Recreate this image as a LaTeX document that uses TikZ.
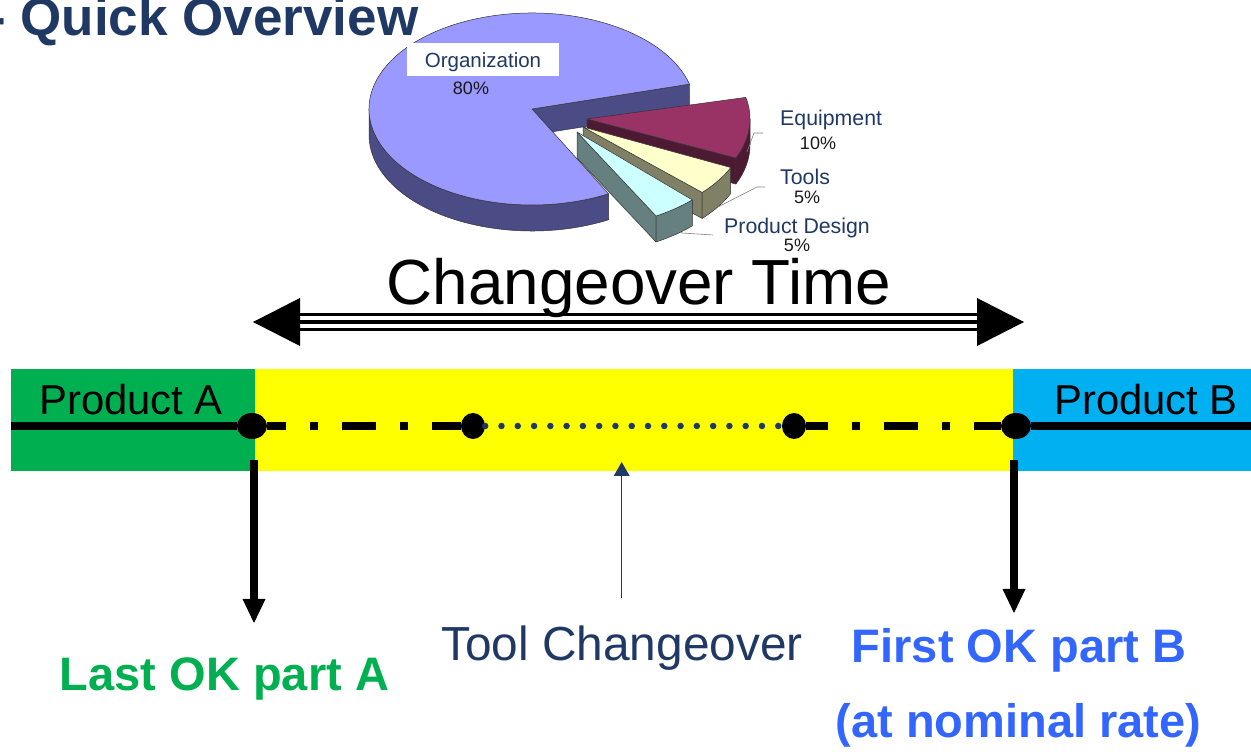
\documentclass[tikz,border=0pt]{standalone}
\usepackage{fontspec}
\setmainfont{Liberation Sans}
\usetikzlibrary{arrows.meta,shapes.geometric,calc}

\definecolor{navy}{HTML}{1F3864}
\definecolor{bandA}{HTML}{00B050}
\definecolor{bandMid}{HTML}{FFFF00}
\definecolor{bandB}{HTML}{00B0F0}
\definecolor{blueTxt}{HTML}{3366FF}
\definecolor{orgTop}{HTML}{9999FF}
\definecolor{orgSide}{HTML}{4B4B85}
\definecolor{eqTop}{HTML}{993366}
\definecolor{eqSide}{HTML}{4D1A33}
\definecolor{tlTop}{HTML}{FFFFCC}
\definecolor{tlSide}{HTML}{808066}
\definecolor{pdTop}{HTML}{CCFFFF}
\definecolor{pdSide}{HTML}{668080}

% 3D pie slice: #1,#2 apex; #3,#4 angles of the top face;
% #5,#6 visible part of the rim; #7 top colour; #8 side colour
\newcommand\pieslab[8]{%
  \filldraw[fill=#8, pieedge] (#1,#2) -- ++(#3:163 and 96) -- ++(0,-26) -- (#1,#2-26) -- cycle;
  \filldraw[fill=#8, pieedge] ($(#1,#2)+(#5:163 and 96)$)
      arc[start angle=#5, end angle=#6, x radius=163pt, y radius=96pt] -- ++(0,-26)
      arc[start angle=#6, end angle=#5, x radius=163pt, y radius=96pt] -- cycle;
  \filldraw[fill=#7, pieedge] (#1,#2) -- ++(#3:163 and 96)
      arc[start angle=#3, end angle=#4, x radius=163pt, y radius=96pt] -- cycle;
}

\begin{document}
\begin{tikzpicture}[x=1pt,y=1pt,
  pieedge/.style={draw=black!80, line width=0.5pt, line join=round},
  pielabel/.style={font=\fontsize{21.3}{25}\selectfont, text=navy, inner sep=0pt},
  pct/.style={font=\fontsize{18}{21}\selectfont, text=black!90, inner sep=0pt},
  leader/.style={draw=gray, line width=0.6pt},
  band/.style={minimum height=102pt, inner sep=0pt, anchor=south west},
  thickline/.style={line width=7.5pt},
  bigdot/.style={ellipse, fill=black, inner sep=0pt, minimum width=30pt, minimum height=26pt},
  smalldot/.style={ellipse, fill=black, inner sep=0pt, minimum width=24pt, minimum height=26pt},
  bigtxt/.style={inner sep=0pt, anchor=base, font=\fontsize{47}{56}\selectfont\bfseries},
  prodtxt/.style={anchor=base west, inner sep=0pt, font=\fontsize{41.8}{50}\selectfont},
]
\useasboundingbox (0,0) rectangle (1251,752);

% heading
\node[anchor=base west, inner sep=0pt, text=navy, font=\fontsize{53}{62}\selectfont\bfseries] (title) at (-12,716) {- Quick Overview};

% exploded pie
\pieslab{532}{643}{15}{298}{180}{298}{orgTop}{orgSide}
\pieslab{587}{633}{-24}{13}{-24}{0}{eqTop}{eqSide}
\pieslab{583}{625}{-43}{-25}{-43}{-25}{tlTop}{tlSide}
\pieslab{577}{620}{-61}{-45}{-61}{-45}{pdTop}{pdSide}

\node[fill=white, minimum width=152pt, minimum height=33pt, inner sep=0pt, text=navy,
      font=\fontsize{20.5}{24}\selectfont] (org) at (483,692.5) {\smash{\raisebox{-8pt}{Organization}}};
\node[pct] (orgP) at (471,664) {80\%};

\node[pielabel, anchor=base west] (eq) at (780,626) {Equipment};
\node[pct] (eqP) at (818,609) {10\%};
\node[pielabel, anchor=base west] (tl) at (780,567.5) {Tools};
\node[pct] (tlP) at (807,555) {5\%};
\node[pielabel, anchor=base west] (pd) at (724,518.5) {Product Design};
\node[pct] (pdP) at (797,507) {5\%};

\coordinate (eqA) at (763,619); \coordinate (eqB) at (747,600);
\draw[leader] (eqA) -- ++(-9,0) -- (eqB);
\coordinate (tlA) at (765,565); \coordinate (tlB) at (718,545);
\draw[leader] (tlA) -- ++(-8,0) -- (tlB);
\coordinate (pdA) at (713,517); \coordinate (pdB) at (673,524);
\draw[leader] (pdA) -- (682,519) -- (pdB);

% changeover time span
\node[anchor=base, inner sep=0pt, font=\fontsize{63.8}{72}\selectfont] (cot) at (639,447) {Changeover Time};
\coordinate (ctL) at (253,430);
\coordinate (ctR) at (1024,430);
\fill (ctL) -- ++(47,24) -- ++(0,-48) -- cycle;
\fill (ctR) -- ++(-47,24) -- ++(0,-48) -- cycle;
\draw[line width=3.5pt] ([xshift=46]ctL) -- ([xshift=-46]ctR);
\draw[line width=2.5pt] ([shift={(46,7.5)}]ctL) -- ([shift={(-46,7.5)}]ctR);
\draw[line width=2.5pt] ([shift={(46,-7.5)}]ctL) -- ([shift={(-46,-7.5)}]ctR);

% time bar
\node[band, fill=bandA, minimum width=244pt] (prodA) at (11,281) {};
\node[band, fill=bandMid, minimum width=758pt] (chg) at (255,281) {};
\node[band, fill=bandB, minimum width=240pt] (prodB) at (1013,281) {};
\node[prodtxt] (txtA) at (39,337) {Product A};
\node[prodtxt] (txtB) at (1054,337) {Product B};

\node[bigdot] (d1) at (252,326) {};
\node[smalldot] (d2) at (473,326) {};
\node[smalldot] (d3) at (794,326) {};
\node[bigdot] (d4) at (1016,326) {};
\coordinate (lineA) at (11,326);
\coordinate (lineB) at (1251,326);

\draw[thickline] (lineA) -- (d1);
\draw[thickline, dash pattern=on 34pt off 24pt on 8pt off 24pt, dash phase=15pt] (d1) -- (d2);
\draw[navy, line width=6.5pt, line cap=round, dash pattern=on 0pt off 16.28pt] (d2) -- (d3);
\draw[thickline, dash pattern=on 34pt off 24pt on 8pt off 24pt, dash phase=12pt] (d3) -- (d4);
\draw[thickline] (d4) -- (lineB);

% markers below the bar
\coordinate (sA) at (254,292); \coordinate (tipA) at (254,129);
\draw[line width=8pt] (sA) -- ([yshift=24]tipA);
\fill (tipA) -- ++(-11.5,24) -- ++(23,0) -- cycle;

\coordinate (sB) at (1014,292); \coordinate (tipB) at (1014,139);
\draw[line width=8pt] (sB) -- ([yshift=24]tipB);
\fill (tipB) -- ++(-11.5,24) -- ++(23,0) -- cycle;

\coordinate (tcS) at (621.7,154); \coordinate (tcT) at (621.7,290);
\draw[navy, line width=1.5pt] (tcS) -- ([yshift=-13]tcT);
\fill[navy] (tcT) -- ++(-8,-14) -- ++(16,0) -- cycle;

\node[inner sep=0pt, anchor=base, text=navy, font=\fontsize{47.8}{56}\selectfont] (tool) at (622,91.3) {Tool Changeover};
\node[bigtxt, text=bandA] (lastA) at (224.5,61) {Last OK part A};
\node[bigtxt, text=blueTxt] (firstB) at (1019,89) {First OK part B};
\node[bigtxt, text=blueTxt] (rate) at (1018.5,14) {(at nominal rate)};
\end{tikzpicture}
\end{document}
